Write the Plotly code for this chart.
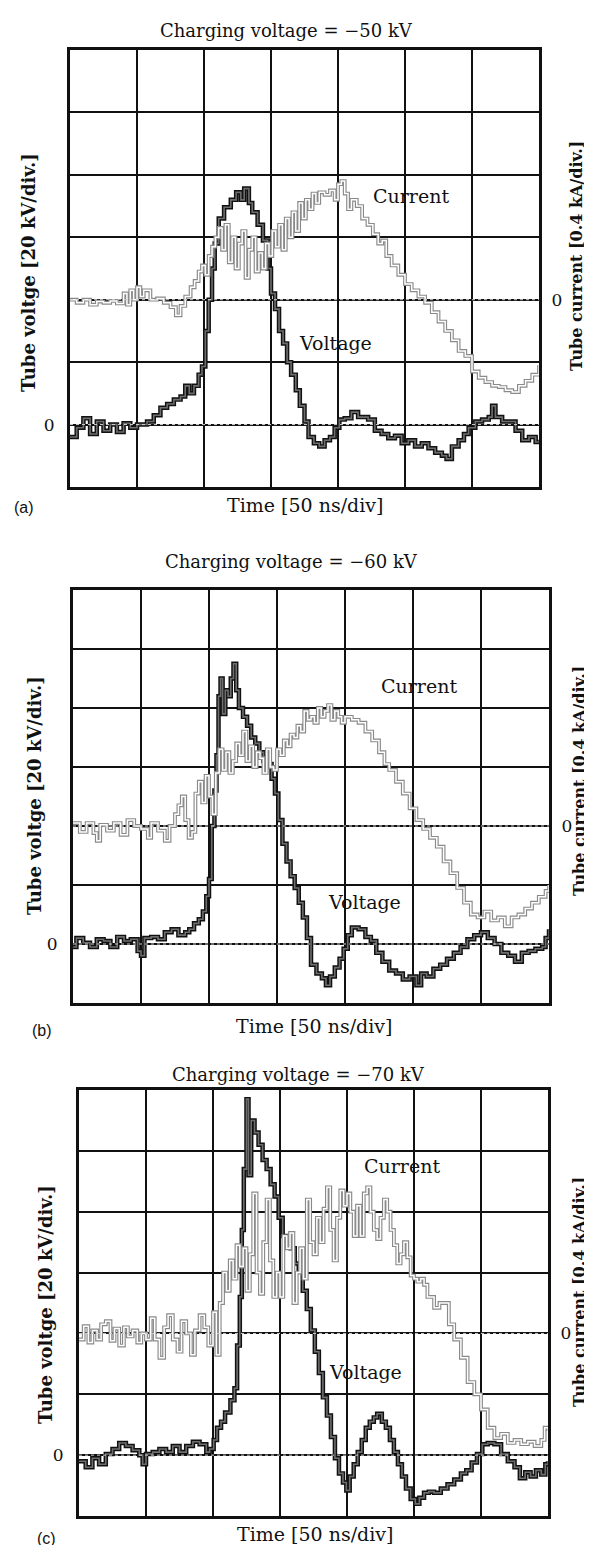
import plotly.graph_objects as go

# ---------------- data (in screen divisions) ----------------
# time axis: 50 ns/div ; voltage: 20 kV/div ; current: 0.4 kA/div
panel_labels = ["(a)", "(b)", "(c)"]
charging_voltages = ["\u221250 kV", "\u221260 kV", "\u221270 kV"]

# Panel (a)
a_volt_t = [0.0, 0.1, 0.2, 0.3, 0.4, 0.5, 0.6, 0.7, 0.8, 0.9, 1.0, 1.15, 1.25, 1.35, 1.45, 1.55, 1.65,
            1.72, 1.78, 1.85, 1.92, 1.97, 2.02, 2.07, 2.12, 2.16, 2.22, 2.3, 2.4, 2.48, 2.55, 2.6, 2.67,
            2.72, 2.8, 2.88, 2.95, 3.0, 3.06, 3.12, 3.18, 3.24, 3.3, 3.37, 3.43, 3.5, 3.56, 3.64, 3.72,
            3.8, 3.88, 3.95, 4.02, 4.1, 4.2, 4.3, 4.45, 4.55, 4.65, 4.75, 4.85, 4.95, 5.05, 5.15, 5.25,
            5.35, 5.45, 5.55, 5.62, 5.7, 5.8, 5.88, 5.95, 6.05, 6.15, 6.25, 6.3, 6.35, 6.45, 6.55, 6.65,
            6.75, 6.85, 6.95, 7.0]
a_volt_v = [-0.2, -0.05, 0.1, -0.15, 0.05, -0.1, 0.0, -0.12, 0.02, -0.05, 0.0, 0.05, 0.15, 0.27, 0.33,
            0.4, 0.45, 0.62, 0.5, 0.62, 0.8, 0.93, 1.5, 2.0, 2.5, 2.9, 3.3, 3.48, 3.6, 3.72, 3.6, 3.78,
            3.55, 3.4, 3.2, 2.95, 2.5, 2.1, 1.85, 1.5, 1.3, 1.0, 0.8, 0.55, 0.3, 0.05, -0.2, -0.3, -0.35,
            -0.25, -0.2, -0.05, 0.08, 0.1, 0.2, 0.12, 0.08, -0.1, -0.15, -0.22, -0.18, -0.3, -0.25, -0.35,
            -0.3, -0.38, -0.45, -0.5, -0.55, -0.35, -0.25, -0.15, -0.05, 0.05, 0.08, 0.12, 0.3, 0.12,
            0.05, 0.05, -0.1, -0.25, -0.2, -0.28, -0.25]
a_curr_t = [0.0, 0.1, 0.2, 0.3, 0.4, 0.5, 0.6, 0.7, 0.8, 0.85, 0.9, 0.95, 1.0, 1.05, 1.1, 1.2, 1.3, 1.4,
            1.5, 1.58, 1.65, 1.72, 1.8, 1.86, 1.92, 1.97, 2.02, 2.07, 2.12, 2.17, 2.22, 2.27, 2.32, 2.37,
            2.42, 2.47, 2.52, 2.57, 2.62, 2.67, 2.72, 2.77, 2.82, 2.87, 2.92, 2.97, 3.02, 3.07, 3.12, 3.17,
            3.22, 3.27, 3.32, 3.37, 3.42, 3.47, 3.52, 3.57, 3.62, 3.67, 3.72, 3.8, 3.88, 3.95, 4.0, 4.05,
            4.1, 4.15, 4.2, 4.28, 4.36, 4.44, 4.52, 4.6, 4.66, 4.72, 4.8, 4.9, 5.0, 5.1, 5.2, 5.3, 5.4,
            5.5, 5.6, 5.7, 5.8, 5.9, 6.0, 6.1, 6.2, 6.3, 6.4, 6.5, 6.6, 6.7, 6.8, 6.9, 7.0]
a_curr_i = [0.0, -0.05, 0.0, -0.08, -0.03, -0.05, -0.02, -0.06, 0.1, -0.08, 0.15, 0.0, 0.2, 0.05, 0.15,
            0.0, 0.02, -0.05, -0.12, -0.25, -0.1, 0.05, 0.2, 0.3, 0.45, 0.55, 0.4, 0.7, 0.85, 1.0, 1.15,
            0.8, 1.2, 0.6, 1.0, 0.5, 0.9, 1.1, 0.35, 0.8, 1.0, 0.45, 0.75, 0.5, 0.9, 0.7, 1.1, 0.85, 1.2,
            0.8, 1.3, 1.0, 1.4, 1.1, 1.55, 1.3, 1.6, 1.45, 1.7, 1.55, 1.72, 1.68, 1.75, 1.6, 1.85, 1.9,
            1.7, 1.45, 1.6, 1.5, 1.3, 1.2, 1.05, 0.9, 0.95, 0.7, 0.55, 0.4, 0.25, 0.15, 0.05, -0.05, -0.2,
            -0.35, -0.5, -0.65, -0.82, -0.9, -1.15, -1.25, -1.32, -1.38, -1.4, -1.45, -1.48, -1.38, -1.3,
            -1.2, -1.05]

# Panel (b)
b_volt_t = [0.0, 0.05, 0.15, 0.25, 0.35, 0.45, 0.55, 0.65, 0.75, 0.85, 0.95, 1.0, 1.05, 1.15, 1.25, 1.35,
            1.45, 1.55, 1.65, 1.71, 1.78, 1.85, 1.91, 1.96, 2.0, 2.04, 2.08, 2.11, 2.14, 2.17, 2.2, 2.24,
            2.28, 2.32, 2.36, 2.4, 2.44, 2.5, 2.56, 2.62, 2.68, 2.74, 2.8, 2.86, 2.92, 2.97, 3.02, 3.08,
            3.14, 3.2, 3.26, 3.32, 3.38, 3.44, 3.5, 3.58, 3.66, 3.72, 3.78, 3.85, 3.92, 3.98, 4.04, 4.1,
            4.2, 4.3, 4.38, 4.46, 4.55, 4.65, 4.75, 4.85, 4.95, 5.05, 5.12, 5.2, 5.3, 5.4, 5.5, 5.6, 5.7,
            5.8, 5.9, 6.0, 6.1, 6.2, 6.3, 6.4, 6.5, 6.6, 6.7, 6.8, 6.9, 6.95, 7.0]
b_volt_v = [-0.05, 0.1, 0.02, -0.05, 0.08, 0.05, -0.05, 0.12, 0.05, 0.08, -0.12, -0.2, 0.1, 0.12, 0.08,
            0.2, 0.25, 0.15, 0.2, 0.25, 0.35, 0.42, 0.55, 0.81, 1.1, 2.0, 2.6, 3.2, 4.2, 4.5, 3.9, 4.3, 4.2,
            4.5, 4.75, 4.3, 4.0, 3.85, 3.7, 3.5, 3.4, 3.25, 3.1, 3.05, 2.8, 2.55, 2.1, 1.7, 1.4, 1.15,
            0.95, 0.7, 0.45, 0.1, -0.35, -0.5, -0.58, -0.7, -0.55, -0.4, -0.25, -0.08, 0.15, 0.28, 0.25,
            0.12, 0.05, -0.15, -0.3, -0.45, -0.5, -0.6, -0.55, -0.7, -0.5, -0.55, -0.42, -0.35, -0.25,
            -0.15, -0.05, 0.08, 0.15, 0.2, 0.1, 0.0, -0.15, -0.2, -0.3, -0.15, -0.12, -0.08, -0.05, 0.1,
            0.25]
b_curr_t = [0.0, 0.1, 0.2, 0.3, 0.35, 0.4, 0.5, 0.6, 0.7, 0.8, 0.9, 1.0, 1.1, 1.15, 1.25, 1.35, 1.42,
            1.5, 1.55, 1.6, 1.65, 1.7, 1.75, 1.8, 1.85, 1.9, 1.95, 2.0, 2.05, 2.1, 2.15, 2.2, 2.25, 2.3,
            2.35, 2.4, 2.45, 2.5, 2.55, 2.6, 2.65, 2.7, 2.75, 2.8, 2.85, 2.9, 2.95, 3.0, 3.05, 3.1, 3.15,
            3.2, 3.25, 3.3, 3.35, 3.4, 3.45, 3.5, 3.55, 3.6, 3.65, 3.7, 3.75, 3.8, 3.85, 3.9, 3.95, 4.0,
            4.1, 4.2, 4.3, 4.4, 4.5, 4.58, 4.65, 4.75, 4.85, 4.95, 5.05, 5.15, 5.25, 5.35, 5.45, 5.55,
            5.65, 5.75, 5.85, 5.95, 6.05, 6.15, 6.25, 6.35, 6.45, 6.55, 6.65, 6.75, 6.85, 6.95, 7.0]
b_curr_i = [0.05, -0.1, 0.05, -0.12, -0.25, 0.02, -0.08, 0.05, -0.15, 0.1, 0.0, -0.05, -0.2, 0.05,
            -0.08, -0.25, 0.0, 0.2, 0.35, 0.5, 0.1, -0.2, -0.1, 0.55, 0.75, 0.4, 0.85, 0.5, 0.2, 0.9, 1.3,
            0.95, 1.25, 0.9, 1.1, 1.4, 1.2, 1.6, 1.1, 1.35, 1.0, 1.25, 1.15, 0.9, 1.3, 1.0, 0.95, 1.3, 1.2,
            1.45, 1.35, 1.55, 1.5, 1.7, 1.6, 1.95, 1.8, 1.85, 1.75, 2.0, 1.85, 1.95, 2.05, 1.8, 1.95, 1.85,
            1.75, 1.85, 1.8, 1.75, 1.6, 1.45, 1.25, 1.05, 0.95, 0.75, 0.55, 0.3, 0.1, -0.05, -0.2, -0.35,
            -0.6, -0.8, -1.05, -1.3, -1.5, -1.55, -1.45, -1.6, -1.55, -1.7, -1.55, -1.5, -1.4, -1.3, -1.2,
            -1.1, -1.0]

# Panel (c)
c_volt_t = [0.0, 0.1, 0.2, 0.3, 0.4, 0.5, 0.6, 0.7, 0.8, 0.9, 0.95, 1.0, 1.1, 1.2, 1.3, 1.4, 1.5, 1.6,
            1.7, 1.8, 1.9, 1.95, 2.01, 2.06, 2.12, 2.18, 2.26, 2.32, 2.36, 2.4, 2.43, 2.46, 2.5, 2.53,
            2.57, 2.62, 2.68, 2.74, 2.8, 2.86, 2.92, 2.98, 3.04, 3.1, 3.16, 3.22, 3.28, 3.34, 3.4, 3.46,
            3.52, 3.58, 3.64, 3.7, 3.76, 3.82, 3.88, 3.94, 3.99, 4.04, 4.1, 4.16, 4.22, 4.28, 4.34, 4.4,
            4.45, 4.52, 4.58, 4.64, 4.7, 4.76, 4.82, 4.88, 4.95, 5.02, 5.08, 5.15, 5.22, 5.3, 5.4, 5.5,
            5.6, 5.7, 5.78, 5.86, 5.94, 6.02, 6.1, 6.2, 6.3, 6.4, 6.5, 6.58, 6.66, 6.74, 6.82, 6.9, 6.96,
            7.0]
c_volt_v = [-0.1, -0.2, -0.05, -0.15, 0.02, 0.1, 0.2, 0.15, 0.08, 0.0, -0.15, 0.02, 0.05, 0.1, 0.05,
            0.15, 0.05, 0.15, 0.22, 0.18, 0.05, 0.1, 0.25, 0.45, 0.55, 0.7, 0.9, 1.1, 1.8, 2.6, 3.7, 4.7,
            5.85, 4.6, 5.5, 5.3, 5.1, 4.85, 4.7, 4.45, 4.25, 3.9, 3.6, 3.5, 3.4, 3.15, 3.05, 2.7, 2.4,
            2.05, 1.7, 1.35, 0.95, 0.65, 0.3, -0.05, -0.3, -0.45, -0.58, -0.35, -0.15, 0.05, 0.25, 0.45,
            0.55, 0.62, 0.68, 0.55, 0.45, 0.25, 0.05, -0.15, -0.35, -0.55, -0.72, -0.8, -0.7, -0.62,
            -0.6, -0.62, -0.55, -0.48, -0.4, -0.3, -0.25, -0.12, 0.02, 0.18, 0.2, 0.18, 0.02, -0.1, -0.2,
            -0.38, -0.28, -0.35, -0.25, -0.32, -0.15, -0.1]
c_curr_t = [0.0, 0.07, 0.14, 0.2, 0.27, 0.33, 0.4, 0.47, 0.53, 0.6, 0.67, 0.73, 0.8, 0.87, 0.93, 1.0,
            1.07, 1.13, 1.2, 1.27, 1.33, 1.4, 1.47, 1.53, 1.6, 1.67, 1.73, 1.8, 1.87, 1.93, 2.0, 2.05, 2.1,
            2.15, 2.2, 2.25, 2.3, 2.35, 2.4, 2.45, 2.5, 2.55, 2.6, 2.65, 2.7, 2.75, 2.8, 2.85, 2.9, 2.95,
            3.0, 3.05, 3.1, 3.15, 3.2, 3.25, 3.3, 3.35, 3.4, 3.45, 3.5, 3.55, 3.6, 3.65, 3.7, 3.75, 3.8,
            3.85, 3.9, 3.95, 4.0, 4.05, 4.1, 4.15, 4.2, 4.25, 4.3, 4.35, 4.4, 4.45, 4.5, 4.55, 4.6, 4.65,
            4.7, 4.75, 4.8, 4.85, 4.9, 4.95, 5.0, 5.05, 5.1, 5.15, 5.2, 5.3, 5.38, 5.45, 5.52, 5.6, 5.7,
            5.8, 5.9, 6.0, 6.1, 6.2, 6.3, 6.4, 6.5, 6.6, 6.7, 6.8, 6.9, 6.95, 7.0]
c_curr_i = [-0.1, 0.12, -0.15, 0.05, -0.1, 0.15, 0.2, -0.12, 0.08, -0.2, 0.1, -0.05, 0.05, -0.15, 0.0,
            -0.1, 0.25, -0.1, -0.4, 0.1, 0.3, -0.1, -0.3, 0.2, 0.0, -0.35, 0.05, 0.3, 0.1, -0.2, 0.35,
            -0.35, 0.5, 1.0, 0.7, 1.2, 0.9, 1.45, 1.1, 1.4, 0.7, 1.3, 2.3, 1.0, 0.65, 1.5, 2.2, 1.2, 0.6,
            1.0, 0.6, 1.6, 1.4, 1.65, 0.5, 1.0, 1.4, 0.9, 2.2, 1.5, 1.3, 1.9, 1.5, 2.05, 2.4, 1.7, 1.2,
            1.9, 2.35, 2.1, 2.3, 2.0, 1.6, 2.1, 1.6, 2.3, 2.4, 2.0, 1.7, 1.55, 1.9, 2.2, 2.0, 1.7, 1.45,
            1.15, 1.3, 1.5, 1.25, 0.95, 0.9, 0.85, 0.9, 0.8, 0.6, 0.42, 0.5, 0.5, 0.15, -0.1, -0.4, -0.8,
            -1.0, -1.25, -1.55, -1.72, -1.65, -1.8, -1.75, -1.82, -1.78, -1.85, -1.75, -1.55, -1.6]

# "Current"/"Voltage" label anchor positions (time div, voltage div)
current_label_pos = [(5.09, 3.66), (5.09, 4.37), (4.82, 4.75)]
voltage_label_pos = [(3.96, 1.31), (4.28, 0.71), (4.27, 1.36)]

volt_t = [a_volt_t, b_volt_t, c_volt_t]
volt_v = [a_volt_v, b_volt_v, c_volt_v]
curr_t = [a_curr_t, b_curr_t, c_curr_t]
curr_i = [a_curr_i, b_curr_i, c_curr_i]

# ---------------- layout geometry (pixels) ----------------
W, H = 592, 1545
boxes = [(62, 531, 42, 479), (65, 541, 582, 995), (71, 540, 1082, 1508)]  # x0, x1, y0, y1
title_y = [22, 553, 1066]
title_x = [278, 283, 290]
time_y = [497, 1018, 1526]
time_x = [297, 306, 307]
plabel_xy = [(16, 500), (34, 1022), (38, 1530)]
left_label_xy = [(21, 265), (26, 788), (37, 1297)]
right_label_xy = [(569, 248), (571, 773), (571, 1284)]

SERIF = "DejaVu Serif"
fig = go.Figure()
layout = dict(width=W, height=H, margin=dict(l=0, r=0, t=0, b=0),
              paper_bgcolor="white", plot_bgcolor="white", showlegend=False)
annotations = []
shapes = []


def px(x):
    return x / W


def py(y):
    return 1 - y / H


for k in range(3):
    x0, x1, y0, y1 = boxes[k]
    xa = "xaxis" if k == 0 else f"xaxis{k + 1}"
    ya = "yaxis" if k == 0 else f"yaxis{2 * k + 1}"
    ya2 = f"yaxis{2 * k + 2}"
    xr = "x" if k == 0 else f"x{k + 1}"
    yr = "y" if k == 0 else f"y{2 * k + 1}"
    yr2 = f"y{2 * k + 2}"

    layout[xa] = dict(domain=[px(x0), px(x1)], range=[0, 7], anchor=yr,
                      tickvals=list(range(8)), ticktext=[""] * 8, ticks="",
                      showgrid=True, gridcolor="#111", gridwidth=1.6, zeroline=False,
                      showline=True, mirror=True, linecolor="#111", linewidth=3, fixedrange=True)
    layout[ya] = dict(domain=[py(y1), py(y0)], range=[-1, 6], anchor=xr,
                      tickvals=list(range(-1, 7)),
                      ticktext=["" if v != 0 else "0" for v in range(-1, 7)],
                      ticks="outside", ticklen=9, tickcolor="rgba(0,0,0,0)",
                      tickfont=dict(family=SERIF, size=17, color="#111"),
                      showgrid=True, gridcolor="#111", gridwidth=2.2, zeroline=False,
                      showline=True, mirror=True, linecolor="#111", linewidth=3, fixedrange=True)
    layout[ya2] = dict(overlaying=yr, side="right", anchor=xr, range=[-3, 4],
                       tickvals=[0], ticktext=["0"], ticks="outside", ticklen=8,
                       tickcolor="rgba(0,0,0,0)",
                       tickfont=dict(family=SERIF, size=17, color="#111"),
                       showgrid=False, zeroline=False, showline=False, fixedrange=True)

    # scope zero-reference lines (dotted over the grid line)
    shapes.append(dict(type="line", xref=f"{xr} domain", x0=0, x1=1, yref=yr, y0=0, y1=0,
                       line=dict(color="#d0d0d0", width=1, dash="dot"), layer="above"))
    shapes.append(dict(type="line", xref=f"{xr} domain", x0=0, x1=1, yref=yr2, y0=0, y1=0,
                       line=dict(color="#d0d0d0", width=1, dash="dot"), layer="above"))

    # voltage trace: dark outline with grey core
    fig.add_trace(go.Scatter(x=volt_t[k], y=volt_v[k], xaxis=xr, yaxis=yr, mode="lines",
                             line=dict(color="#111", width=4.5, shape="hv"), hoverinfo="skip"))
    fig.add_trace(go.Scatter(x=volt_t[k], y=volt_v[k], xaxis=xr, yaxis=yr, mode="lines",
                             line=dict(color="#6e6e6e", width=1.6, shape="hv"), hoverinfo="skip"))
    # current trace: grey speckled outline with white core
    fig.add_trace(go.Scatter(x=curr_t[k], y=curr_i[k], xaxis=xr, yaxis=yr2, mode="lines",
                             line=dict(color="#8a8a8a", width=3.8, shape="hv"), hoverinfo="skip"))
    fig.add_trace(go.Scatter(x=curr_t[k], y=curr_i[k], xaxis=xr, yaxis=yr2, mode="lines",
                             line=dict(color="white", width=1.5, shape="hv"), hoverinfo="skip"))

    # texts
    annotations.append(dict(text="Charging voltage = " + charging_voltages[k],
                            xref="paper", yref="paper", x=px(title_x[k]), y=py(title_y[k]),
                            showarrow=False, xanchor="center", yanchor="middle",
                            font=dict(family=SERIF, size=18, color="#111")))
    annotations.append(dict(text="Time [50 ns/div]", xref="paper", yref="paper",
                            x=px(time_x[k]), y=py(time_y[k]), showarrow=False,
                            xanchor="center", yanchor="middle",
                            font=dict(family=SERIF, size=19, color="#111")))
    annotations.append(dict(text=panel_labels[k], xref="paper", yref="paper",
                            x=px(plabel_xy[k][0]), y=py(plabel_xy[k][1]), showarrow=False,
                            xanchor="center", yanchor="middle",
                            font=dict(family="Liberation Sans", size=16, color="#111")))
    annotations.append(dict(text="<b>Tube voltge [20 kV/div.]</b>", xref="paper", yref="paper",
                            x=px(left_label_xy[k][0]), y=py(left_label_xy[k][1]), textangle=-90,
                            showarrow=False, xanchor="center", yanchor="middle",
                            font=dict(family=SERIF, size=18, color="#111")))
    annotations.append(dict(text="<b>Tube current [0.4 kA/div.]</b>", xref="paper", yref="paper",
                            x=px(right_label_xy[k][0]), y=py(right_label_xy[k][1]), textangle=-90,
                            showarrow=False, xanchor="center", yanchor="middle",
                            font=dict(family=SERIF, size=16, color="#111")))
    annotations.append(dict(text="Current", xref=xr, yref=yr, x=current_label_pos[k][0],
                            y=current_label_pos[k][1], showarrow=False,
                            font=dict(family=SERIF, size=19, color="#111")))
    annotations.append(dict(text="Voltage", xref=xr, yref=yr, x=voltage_label_pos[k][0],
                            y=voltage_label_pos[k][1], showarrow=False,
                            font=dict(family=SERIF, size=19, color="#111")))

layout["annotations"] = annotations
layout["shapes"] = shapes
fig.update_layout(**layout)
fig.write_html("out.html")
